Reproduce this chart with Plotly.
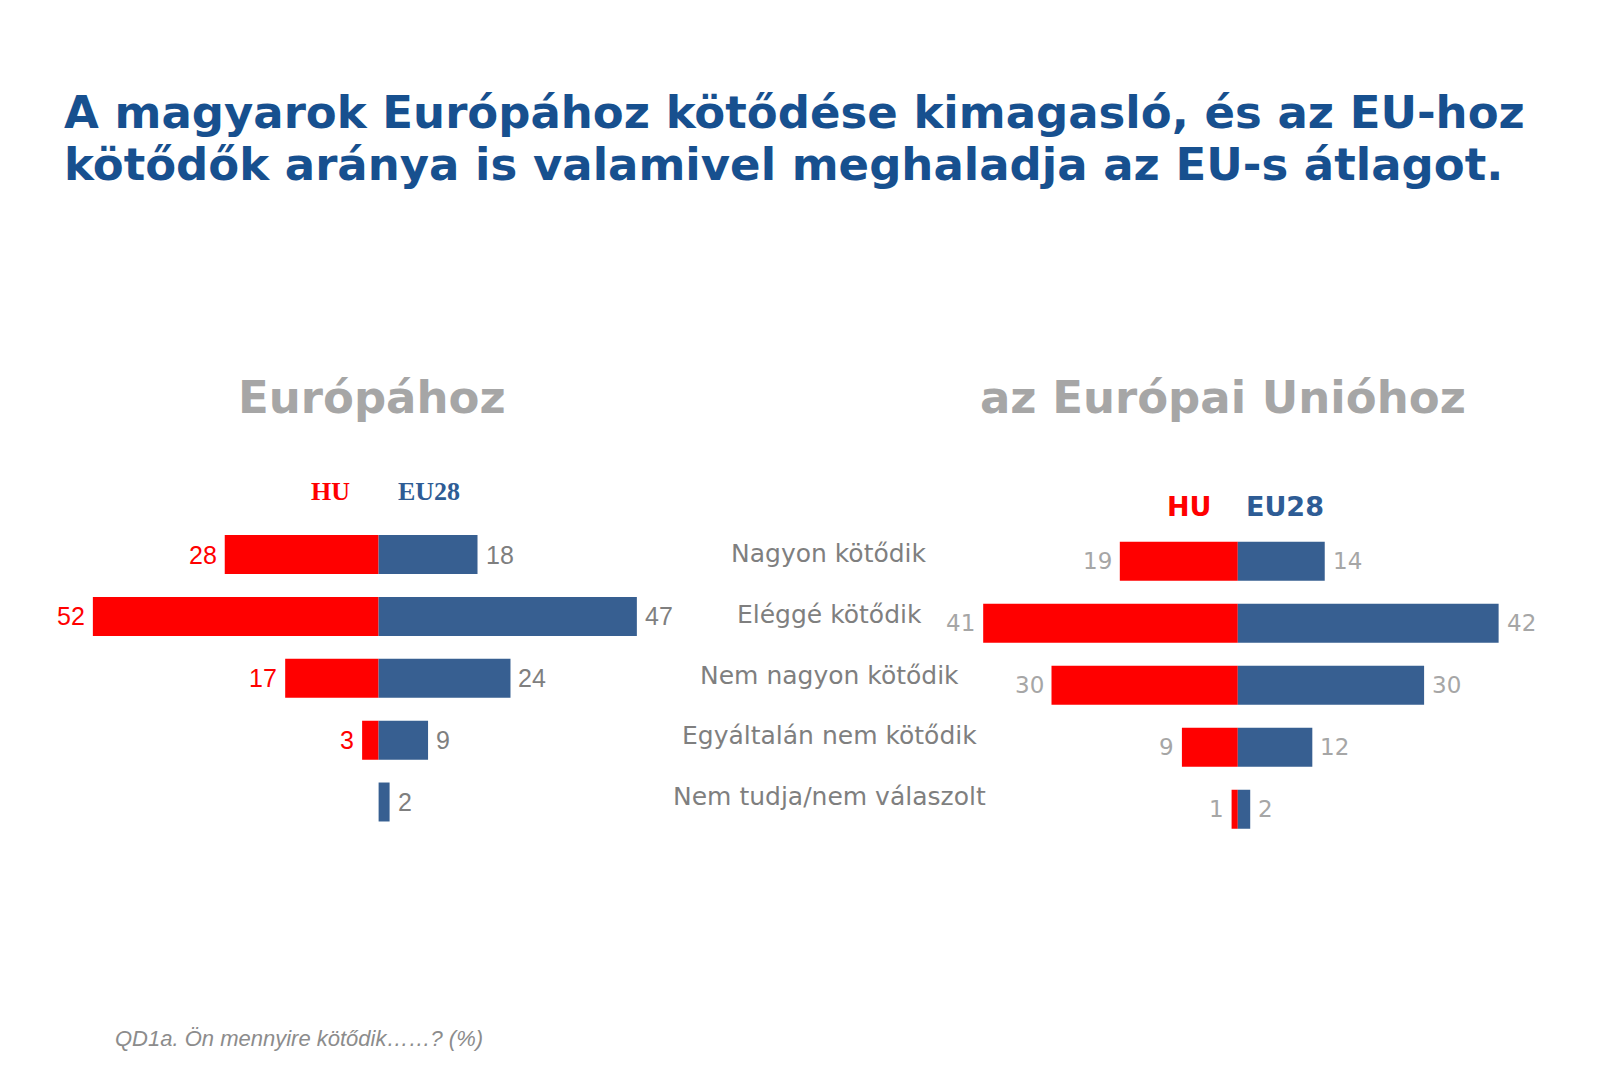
import plotly.graph_objects as go

# The page body has an 8px default margin; size the figure so that it fits the
# 1600x1066 window and convert reference pixel positions accordingly.
OFF = 8
W, H = 1600 - OFF, 1066 - OFF

categories = ["Nagyon kötődik", "Eléggé kötődik", "Nem nagyon kötődik",
              "Egyáltalán nem kötődik", "Nem tudja/nem válaszolt"]
europe_hu = [28, 52, 17, 3, None]
europe_eu = [18, 47, 24, 9, 2]
eu_hu = [19, 41, 30, 9, 1]
eu_eu = [14, 42, 30, 12, 2]

title_lines = ["A magyarok Európához kötődése kimagasló, és az EU-hoz",
               "kötődők aránya is valamivel meghaladja az EU-s átlagot."]
subtitles = ["Európához", "az Európai Unióhoz"]
series_names = ["HU", "EU28"]
footnote = "QD1a. Ön mennyire kötődik……? (%)"

RED = "#FF0000"
BLUE = "#375F91"
TITLE_BLUE = "#17508F"


def px(x):
    return (x - OFF) / W


def py(y):
    return 1 - (y - OFF) / H


fig = go.Figure()

charts = [
    dict(hu=europe_hu, eu=europe_eu, xa="x", ya="y"),
    dict(hu=eu_hu, eu=eu_eu, xa="x2", ya="y2"),
]
for c in charts:
    fig.add_trace(go.Bar(
        y=categories, x=[-v if v is not None else None for v in c["hu"]],
        orientation="h", marker=dict(color=RED, line=dict(width=0)),
        width=0.63, xaxis=c["xa"], yaxis=c["ya"], name=series_names[0],
        showlegend=False, hoverinfo="skip"))
    fig.add_trace(go.Bar(
        y=categories, x=c["eu"],
        orientation="h", marker=dict(color=BLUE, line=dict(width=0)),
        width=0.63, xaxis=c["xa"], yaxis=c["ya"], name=series_names[1],
        showlegend=False, hoverinfo="skip"))

annotations = []

label_styles = [
    dict(hu_color=RED, eu_color="#7F7F7F", family="Liberation Sans", size=25),
    dict(hu_color="#A6A6A6", eu_color="#A6A6A6", family="DejaVu Sans", size=23),
]
for c, st in zip(charts, label_styles):
    for cat, h, e in zip(categories, c["hu"], c["eu"]):
        if h is not None:
            annotations.append(dict(
                x=-h, y=cat, xref=c["xa"], yref=c["ya"], text=str(h),
                xanchor="right", yanchor="middle", xshift=-6, showarrow=False,
                font=dict(family=st["family"], size=st["size"], color=st["hu_color"])))
        if e is not None:
            annotations.append(dict(
                x=e, y=cat, xref=c["xa"], yref=c["ya"], text=str(e),
                xanchor="left", yanchor="middle", xshift=6, showarrow=False,
                font=dict(family=st["family"], size=st["size"], color=st["eu_color"])))

# title
for line, yy in zip(title_lines, [112, 165]):
    annotations.append(dict(
        x=px(62), y=py(yy), xref="paper", yref="paper", text="<b>%s</b>" % line,
        xanchor="left", yanchor="middle", showarrow=False,
        font=dict(family="DejaVu Sans", size=45, color=TITLE_BLUE)))

# subtitles
for s, xx in zip(subtitles, [372, 1223]):
    annotations.append(dict(
        x=px(xx), y=py(398), xref="paper", yref="paper", text="<b>%s</b>" % s,
        xanchor="center", yanchor="middle", showarrow=False,
        font=dict(family="DejaVu Sans", size=45, color="#A6A6A6")))

# HU / EU28 headers
annotations.append(dict(x=px(330), y=py(491), xref="paper", yref="paper",
                        text="<b>%s</b>" % series_names[0], showarrow=False,
                        xanchor="center", yanchor="middle",
                        font=dict(family="Liberation Serif", size=26, color=RED)))
annotations.append(dict(x=px(429), y=py(491), xref="paper", yref="paper",
                        text="<b>%s</b>" % series_names[1], showarrow=False,
                        xanchor="center", yanchor="middle",
                        font=dict(family="Liberation Serif", size=26, color="#2E5C95")))
annotations.append(dict(x=px(1189), y=py(507), xref="paper", yref="paper",
                        text="<b>%s</b>" % series_names[0], showarrow=False,
                        xanchor="center", yanchor="middle",
                        font=dict(family="DejaVu Sans", size=27, color=RED)))
annotations.append(dict(x=px(1285), y=py(507), xref="paper", yref="paper",
                        text="<b>%s</b>" % series_names[1], showarrow=False,
                        xanchor="center", yanchor="middle",
                        font=dict(family="DejaVu Sans", size=27, color="#2E5C95")))

# category labels
for cat, yy in zip(categories, [553, 614, 675, 735, 796]):
    annotations.append(dict(x=px(829), y=py(yy), xref="paper", yref="paper",
                            text=cat, showarrow=False, xanchor="center", yanchor="middle",
                            font=dict(family="DejaVu Sans", size=25, color="#7F7F7F")))

# footnote
annotations.append(dict(x=px(113), y=py(1038), xref="paper", yref="paper",
                        text="<i>%s</i>" % footnote, showarrow=False,
                        xanchor="left", yanchor="middle",
                        font=dict(family="Liberation Sans", size=22, color="#8C8C8C")))

left_zero, left_scale = 378.6, 5.495
right_zero, right_scale = 1237.8, 6.21
LR, RR = 55, 45
L_top, L_step = 554.6, 61.85
R_top, R_step = 561.2, 62.0

fig.update_layout(
    width=W, height=H, margin=dict(l=0, r=0, t=0, b=0),
    paper_bgcolor="white", plot_bgcolor="white", barmode="overlay",
    annotations=annotations,
    xaxis=dict(range=[-LR, LR], visible=False, fixedrange=True,
               domain=[px(left_zero - LR * left_scale), px(left_zero + LR * left_scale)]),
    yaxis=dict(range=[4.5, -0.5], visible=False, fixedrange=True,
               domain=[py(L_top + 4.5 * L_step), py(L_top - 0.5 * L_step)]),
    xaxis2=dict(range=[-RR, RR], visible=False, fixedrange=True, anchor="y2",
                domain=[px(right_zero - RR * right_scale), px(right_zero + RR * right_scale)]),
    yaxis2=dict(range=[4.5, -0.5], visible=False, fixedrange=True, anchor="x2",
                domain=[py(R_top + 4.5 * R_step), py(R_top - 0.5 * R_step)]),
)

fig.write_html("out.html")
